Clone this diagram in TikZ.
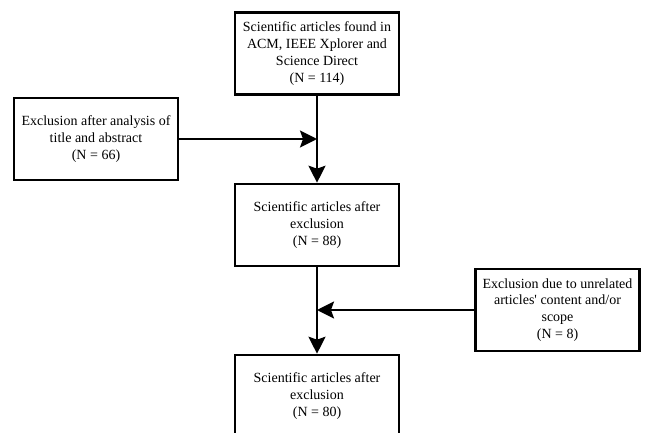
\documentclass[tikz,border=0pt]{standalone}
\usepackage{fontspec}
\setmainfont{Liberation Serif}
\usetikzlibrary{arrows.meta}
\tikzset{
  flowbox/.style={draw=black, line width=2.6pt, minimum width=164pt, minimum height=82pt,
    align=center, inner sep=2pt, font=\fontsize{14}{16.8}\selectfont},
  arr/.style={line width=2.2pt, -{Stealth[length=17pt,width=17pt,inset=3pt]}},
}
\begin{document}
\begin{tikzpicture}[x=1pt,y=-1pt]
\useasboundingbox[fill=white] (0,0) rectangle (645,433);
\clip (0,0) rectangle (645,433);
\node[flowbox] (b1) at (317,53.5) {Scientific articles found in\\ACM, IEEE Xplorer and\\Science Direct\\(N = 114)};
\node[flowbox] (ex1) at (96,139) {Exclusion after analysis of\\title and abstract\\(N = 66)};
\node[flowbox] (b2) at (317,225) {Scientific articles after\\exclusion\\(N = 88)};
\node[flowbox] (ex2) at (557.5,310) {Exclusion due to unrelated\\articles\textquotesingle{} content and/or\\scope\\(N = 8)};
\node[flowbox] (b3) at (317,396) {Scientific articles after\\exclusion\\(N = 80)};
\coordinate (j1) at (b1.south |- ex1.east);
\coordinate (j2) at (b2.south |- ex2.west);
\draw[arr] (b1) -- (b2);
\draw[arr] (ex1) -- (j1);
\draw[arr] (b2) -- (b3);
\draw[arr] (ex2) -- (j2);
\end{tikzpicture}
\end{document}
